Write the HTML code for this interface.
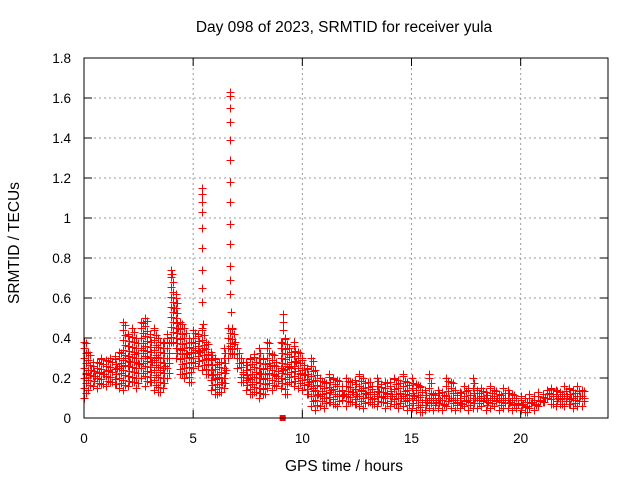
<!DOCTYPE html>
<html><head><meta charset="utf-8"><style>
body{margin:0;background:#fff;}
svg{display:block;font-family:"Liberation Sans",sans-serif;}
</style></head><body>
<svg id="chart" width="640" height="480">
<text x="344" y="32" text-anchor="middle" font-size="15.5">Day 098 of 2023, SRMTID for receiver yula</text>
<text x="344" y="471" text-anchor="middle" font-size="15.5">GPS time / hours</text>
<text transform="translate(19,243) rotate(-90)" text-anchor="middle" font-size="15.5">SRMTID / TECUs</text>
<g id="grid"></g><g id="ticks"></g><g id="pts"></g>
<rect x="84" y="58" width="524" height="360" fill="none" stroke="#000" stroke-width="1"/>
</svg>
<script>
const xTicks=[0,5,10,15,20];
const yTicks=[0,0.2,0.4,0.6,0.8,1,1.2,1.4,1.6,1.8];
const yTickLabels=["0","0.2","0.4","0.6","0.8","1","1.2","1.4","1.6","1.8"];
const t0=0, dt=0.2;
const lo=[.10,.14,.16,.15,.17,.16,.18,.17,.15,.14,
.16,.18,.15,.20,.16,.18,.14,.13,.15,.20,
.38,.30,.22,.20,.18,.25,.26,.24,.22,.14,
.12,.13,.15,.30,.32,.25,.18,.14,.12,.13,
.10,.12,.15,.14,.16,.15,.12,.18,.16,.15,
.14,.12,.06,.04,.06,.05,.08,.07,.06,.09,
.06,.08,.07,.06,.05,.08,.07,.06,.08,.05,
.06,.07,.05,.06,.04,.05,.04,.03,.04,.05,
.04,.05,.04,.06,.05,.04,.05,.06,.04,.05,
.05,.06,.04,.05,.06,.04,.05,.05,.04,.05,
.04,.03,.05,.04,.06,.08,.10,.07,.06,.07,
.06,.07,.05,.06,.06];
const hi=[.38,.33,.28,.28,.30,.29,.30,.31,.33,.48,
.42,.45,.40,.48,.50,.42,.45,.40,.38,.42,
.72,.62,.48,.45,.40,.44,.42,.45,.38,.33,
.30,.28,.35,.45,.45,.35,.30,.28,.30,.32,
.35,.30,.38,.32,.28,.38,.40,.35,.38,.33,
.30,.25,.30,.24,.20,.18,.22,.20,.19,.16,
.20,.18,.19,.22,.20,.18,.16,.20,.17,.18,
.18,.20,.19,.22,.18,.20,.17,.16,.14,.22,
.12,.14,.13,.20,.18,.14,.13,.16,.15,.20,
.14,.15,.13,.16,.14,.12,.15,.14,.12,.10,
.11,.10,.12,.11,.13,.12,.14,.15,.14,.13,
.16,.15,.14,.16,.14];
const mid=[.22,.24,.21,.23,.22,.24,.23,.25,.26,.30,
.28,.32,.27,.34,.30,.28,.30,.24,.26,.30,
.55,.45,.34,.32,.30,.34,.33,.35,.30,.22,
.20,.18,.24,.36,.38,.30,.22,.20,.18,.22,
.22,.20,.26,.22,.20,.24,.26,.25,.28,.22,
.22,.18,.15,.12,.12,.10,.14,.12,.11,.12,
.12,.13,.11,.14,.12,.12,.10,.13,.11,.12,
.11,.12,.10,.12,.10,.11,.09,.08,.08,.10,
.08,.09,.07,.10,.09,.08,.07,.09,.08,.10,
.09,.10,.08,.09,.10,.08,.09,.08,.07,.07,
.07,.06,.08,.07,.09,.10,.12,.11,.10,.10,
.11,.10,.09,.11,.10];
const spikeT=[5.4,5.4,5.4,5.4,5.4,5.4,5.4,5.4,5.4,5.45,6.7,6.7,6.7,6.7,6.7,6.7,6.7,6.7,6.7,6.7,6.7,6.7,6.7,6.75,4.0,4.05,9.1,9.1,9.1];
const spikeV=[1.15,1.12,1.08,1.03,0.95,0.85,0.74,0.65,0.58,0.47,1.63,1.61,1.55,1.48,1.39,1.29,1.18,1.08,0.97,0.87,0.76,0.69,0.62,0.53,0.74,0.72,0.52,0.48,0.44];
const sqT=[9.1], sqV=[0];
const X=t=>84+t*(524/24), Y=v=>418-v*200;
const NS="http://www.w3.org/2000/svg";
const mk=(tag,at,p)=>{const e=document.createElementNS(NS,tag);for(const k in at)e.setAttribute(k,at[k]);p.appendChild(e);return e;};
const grid=document.getElementById('grid'),ticks=document.getElementById('ticks'),pts=document.getElementById('pts');
xTicks.forEach(t=>{
 if(t>0){const g=mk('line',{x1:X(t),x2:X(t),y1:58,y2:418,stroke:'#999','stroke-dasharray':'2,3'},grid);
 
 }
 mk('line',{x1:X(t),x2:X(t),y1:418,y2:410,stroke:'#000'},ticks);
 mk('line',{x1:X(t),x2:X(t),y1:58,y2:66,stroke:'#000'},ticks);
 const l=mk('text',{x:X(t),y:443,'text-anchor':'middle','font-size':13.5},ticks);l.textContent=t;
 
 
});
yTicks.forEach((v,i)=>{
 if(v>0&&v<1.8){const g=mk('line',{x1:84,x2:608,y1:Y(v),y2:Y(v),stroke:'#999','stroke-dasharray':'2,3'},grid);
 
 }
 mk('line',{x1:84,x2:92,y1:Y(v),y2:Y(v),stroke:'#000'},ticks);
 mk('line',{x1:600,x2:608,y1:Y(v),y2:Y(v),stroke:'#000'},ticks);
 const l=mk('text',{x:71,y:Y(v)+5,'text-anchor':'end','font-size':13.5},ticks);l.textContent=yTickLabels[i];
 
 
});
let d='';
const plus=(t,v)=>{const x=Math.round(X(t))+0.5,y=Math.round(Y(v))+0.5;d+=`M${x-4},${y}h8M${x},${y-4}v8`;};
lo.forEach((l,i)=>{const t=t0+i*dt;const h=hi[i];
 for(let v=l;v<=h;v+=0.025)plus(t+((Math.round(v*40)%2)?0.08:0),v);
 plus(t,l);plus(t,h);plus(t+0.1,mid[i]);});
spikeT.forEach((t,i)=>plus(t,spikeV[i]));
const p=mk('path',{d:d,stroke:'#f00','stroke-width':1,fill:'none','shape-rendering':'crispEdges'},pts);


sqT.forEach((t,i)=>{const r=mk('rect',{x:X(t)-3,y:Y(sqV[i])-3,width:6,height:6,fill:'#f00'},pts);
 
 });
</script>
</body></html>
